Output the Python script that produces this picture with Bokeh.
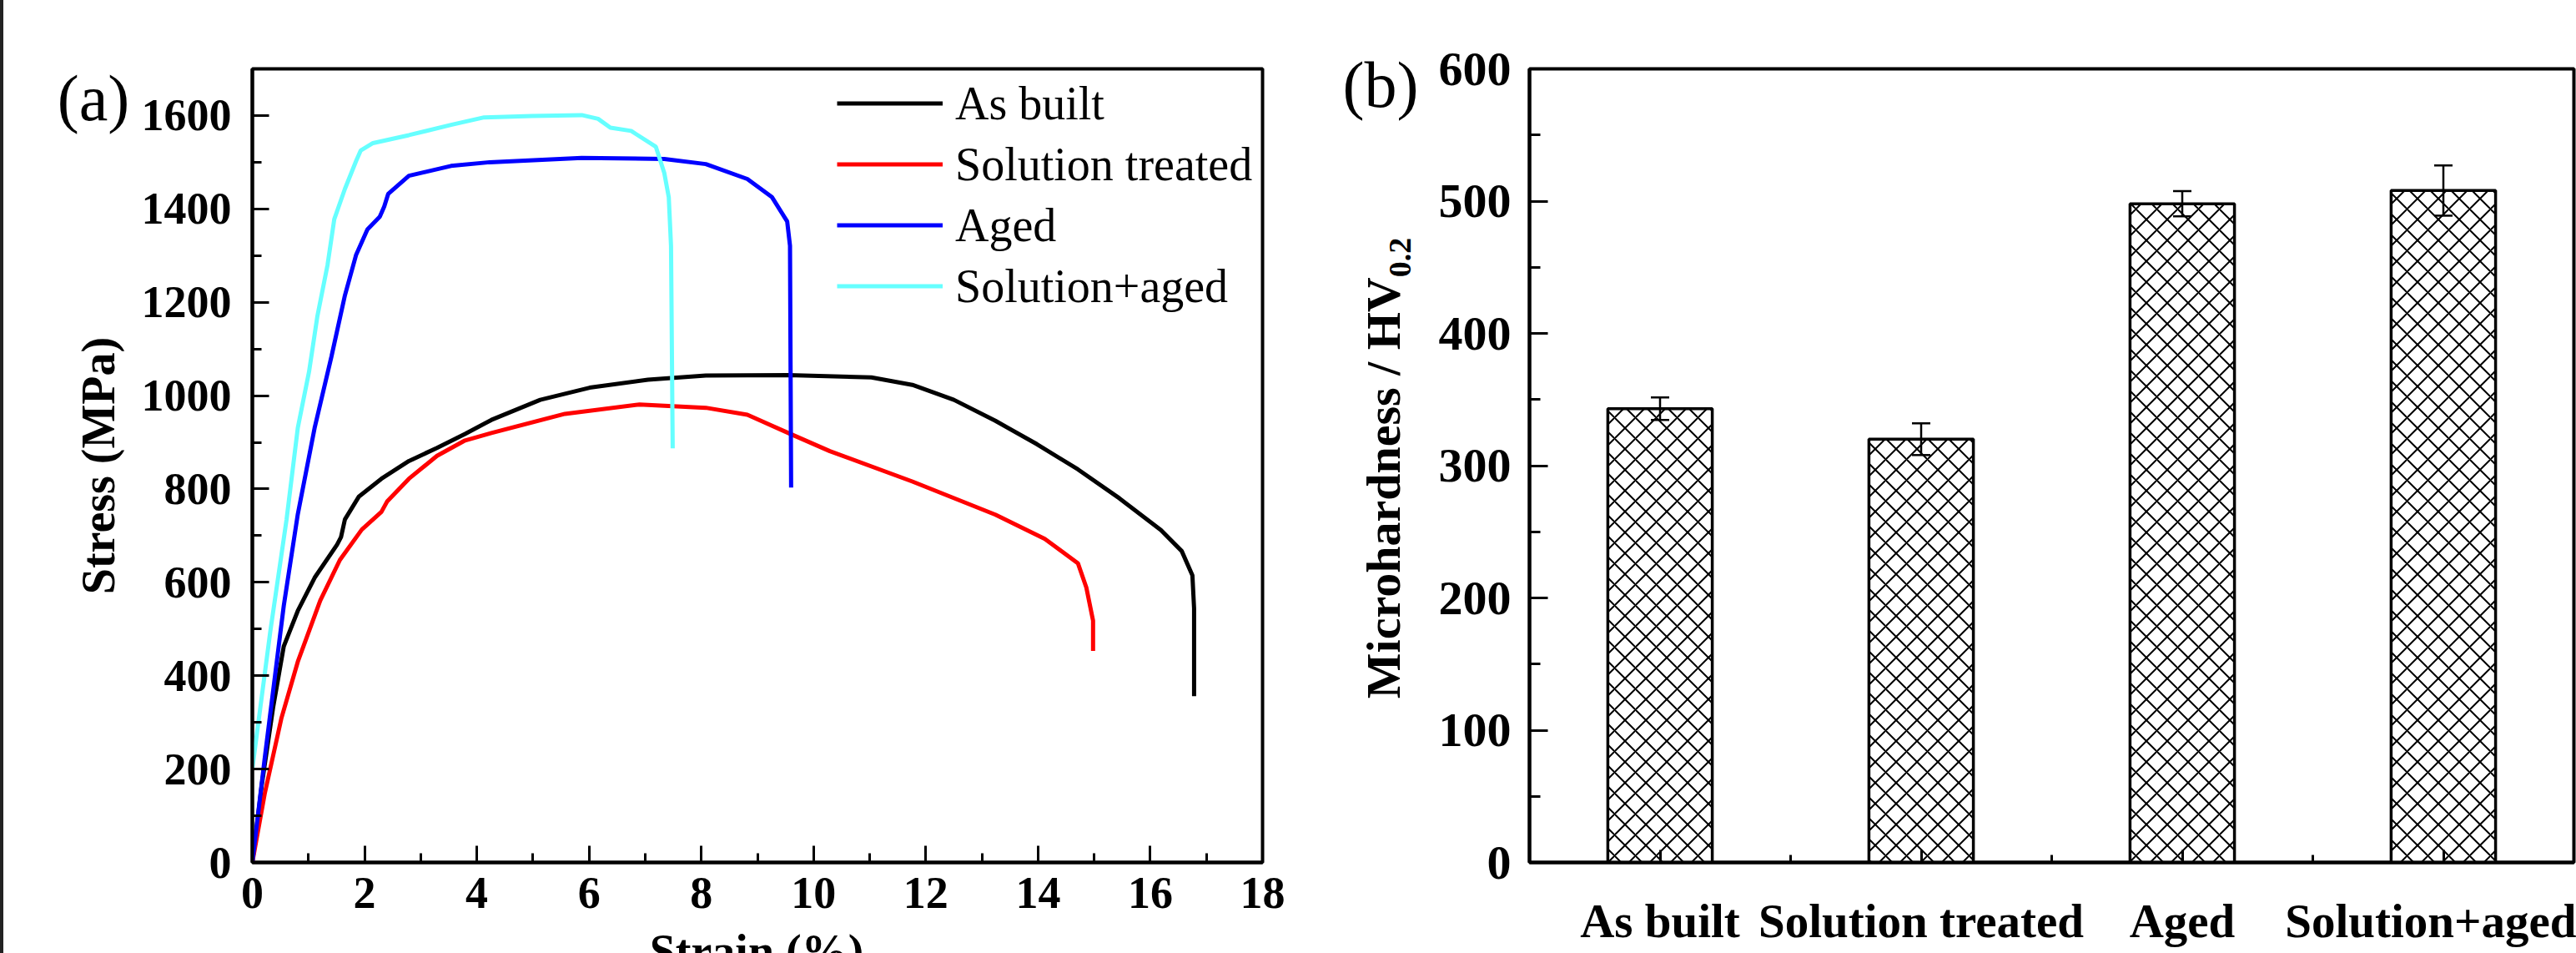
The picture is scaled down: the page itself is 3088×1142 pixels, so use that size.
import numpy as np
from bokeh.plotting import figure
from bokeh.models import (Range1d, SingleIntervalTicker, FixedTicker,
                          Whisker, ColumnDataSource, TeeHead, Div)
from bokeh.layouts import row
from bokeh.embed import file_html
from bokeh.resources import INLINE

# ---------------- data: panel (a) stress-strain curves ----------------
as_built_strain = [0, 0.17, 0.37, 0.56, 0.81, 1.11, 1.51, 1.58, 1.65, 1.90, 2.30, 2.79,
                   3.29, 3.79, 4.26, 5.13, 6.01, 7.05, 8.08, 9.55, 11.03, 11.76, 12.5,
                   13.24, 13.98, 14.71, 15.45, 16.19, 16.56, 16.75, 16.78, 16.78]
as_built_stress = [0, 168, 332, 463, 539, 610, 681, 697, 735, 784, 822, 860,
                   888, 918, 948, 991, 1017, 1034, 1043, 1044, 1039, 1023, 991,
                   946, 896, 842, 780, 712, 667, 615, 544, 356]

solution_strain = [0, 0.22, 0.52, 0.81, 1.21, 1.56, 1.95, 2.30, 2.40, 2.79, 3.29, 3.79,
                   4.26, 5.57, 6.9, 8.08, 8.82, 9.55, 10.29, 11.76, 13.24, 14.12, 14.71,
                   14.86, 14.98, 14.98]
solution_stress = [0, 147, 310, 430, 561, 648, 713, 751, 773, 822, 871, 904,
                   920, 961, 981, 974, 959, 920, 881, 816, 745, 693, 641,
                   589, 518, 453]

aged_strain = [0, 0.22, 0.56, 0.81, 1.11, 1.41, 1.65, 1.85, 2.05, 2.27, 2.35, 2.42,
               2.79, 3.54, 4.23, 5.87, 7.34, 8.08, 8.82, 9.26, 9.53, 9.58, 9.6]
aged_stress = [0, 223, 550, 746, 931, 1084, 1215, 1302, 1356, 1383, 1405, 1432,
               1471, 1492, 1500, 1509, 1507, 1496, 1464, 1425, 1373, 1321, 803]

sol_aged_strain = [0, 0.32, 0.61, 0.81, 1.01, 1.16, 1.34, 1.46, 1.65, 1.85, 1.93, 2.15,
                   2.79, 3.54, 4.13, 4.98, 5.87, 6.16, 6.38, 6.75, 7.19, 7.34, 7.42,
                   7.46, 7.49]
sol_aged_stress = [201, 495, 735, 931, 1051, 1171, 1280, 1378, 1443, 1503, 1525, 1541,
                   1558, 1580, 1596, 1599, 1601, 1593, 1574, 1567, 1533, 1477, 1425,
                   1321, 887]

series_names = ["As built", "Solution treated", "Aged", "Solution+aged"]
series_colors = ["#000000", "#ff0000", "#0000ff", "#66ffff"]

# ---------------- data: panel (b) microhardness ----------------
categories = ["As built", "Solution treated", "Aged", "Solution+aged"]
hardness = [343, 320, 498, 508]
hardness_err = [8.5, 12, 9.5, 19]

FONT = "Liberation Serif"

# ======================= panel (a) =======================
pa = figure(width=1556, height=1142, x_range=Range1d(0, 18), y_range=Range1d(0, 1700),
            output_backend="svg", toolbar_location=None,
            min_border_left=298, min_border_right=47, min_border_top=79, min_border_bottom=109)
pa.grid.visible = False
pa.outline_line_color = "black"
pa.outline_line_width = 4
pa.background_fill_color = "white"
pa.border_fill_color = "white"

curves = [(as_built_strain, as_built_stress), (solution_strain, solution_stress),
          (aged_strain, aged_stress), (sol_aged_strain, sol_aged_stress)]
for (xs, ys), name, col in zip(curves, series_names, series_colors):
    pa.line(xs, ys, line_color=col, line_width=5, legend_label=name)

pa.xaxis.ticker = SingleIntervalTicker(interval=2, num_minor_ticks=2)
pa.yaxis.ticker = SingleIntervalTicker(interval=200, num_minor_ticks=2)
for ax in (pa.xaxis[0], pa.yaxis[0]):
    ax.axis_line_width = 4
    ax.major_tick_in = 20
    ax.major_tick_out = 0
    ax.minor_tick_in = 11
    ax.minor_tick_out = 0
    ax.major_tick_line_width = 3
    ax.minor_tick_line_width = 3
    ax.major_label_text_font = FONT
    ax.major_label_text_font_style = "bold"
    ax.major_label_text_font_size = "54px"
    ax.major_label_text_color = "black"
pa.xaxis.major_label_standoff = 18
pa.yaxis.major_label_standoff = 25
pa.yaxis.axis_label = "Stress (MPa)"
pa.yaxis.axis_label_text_font = FONT
pa.yaxis.axis_label_text_font_style = "bold"
pa.yaxis.axis_label_text_font_size = "56px"
pa.yaxis.axis_label_text_color = "black"
pa.yaxis.axis_label_standoff = 18

lg = pa.legend[0]
lg.location = (701, 654)
lg.border_line_alpha = 0
lg.background_fill_alpha = 0
lg.label_text_font = FONT
lg.label_text_font_size = "56px"
lg.label_text_color = "black"
lg.glyph_width = 127
lg.glyph_height = 73
lg.label_height = 73
lg.spacing = 0
lg.padding = 0
lg.margin = 0
lg.label_standoff = 15

# ======================= panel (b) =======================
pb = figure(width=1528, height=1142, x_range=Range1d(0.5, 4.5), y_range=Range1d(0, 600),
            output_backend="svg", toolbar_location=None,
            min_border_left=273, min_border_right=3, min_border_top=82, min_border_bottom=106)
pb.grid.visible = False
pb.outline_line_color = "black"
pb.outline_line_width = 4
pb.background_fill_color = "white"
pb.border_fill_color = "white"

xpos = list(range(1, len(categories) + 1))
src = ColumnDataSource(dict(
    x=xpos, top=hardness,
    upper=[h + e for h, e in zip(hardness, hardness_err)],
    lower=[h - e for h, e in zip(hardness, hardness_err)],
))
pb.vbar(x="x", top="top", width=0.4, source=src, fill_color="white", line_color="black",
        line_width=3.5, hatch_pattern="diagonal_cross", hatch_color="black",
        hatch_scale=25, hatch_weight=2)
wh = Whisker(base="x", upper="upper", lower="lower", source=src, line_width=2.5,
             line_color="black",
             upper_head=TeeHead(size=22, line_width=2.5, line_color="black"),
             lower_head=TeeHead(size=22, line_width=2.5, line_color="black"),
             level="annotation")
pb.add_layout(wh)

pb.xaxis.ticker = FixedTicker(ticks=xpos, minor_ticks=[1.5, 2.5, 3.5])
pb.xaxis.major_label_overrides = {i: c for i, c in zip(xpos, categories)}
pb.yaxis.ticker = SingleIntervalTicker(interval=100, num_minor_ticks=2)
for ax in (pb.xaxis[0], pb.yaxis[0]):
    ax.axis_line_width = 4
    ax.major_tick_out = 0
    ax.minor_tick_out = 0
    ax.major_tick_line_width = 3
    ax.minor_tick_line_width = 3
    ax.major_label_text_font = FONT
    ax.major_label_text_font_style = "bold"
    ax.major_label_text_color = "black"
pb.xaxis.major_tick_in = 15
pb.xaxis.minor_tick_in = 9
pb.yaxis.major_tick_in = 22
pb.yaxis.minor_tick_in = 13
pb.xaxis.major_label_text_font_size = "57px"
pb.yaxis.major_label_text_font_size = "58px"
pb.xaxis.major_label_standoff = 38
pb.yaxis.major_label_standoff = 22

# ---------------- absolutely positioned HTML texts ----------------
def abs_div(html, left, top, w, h, size, bold=False, clip=False, extra=None):
    st = {"position": "absolute", "left": f"{left}px", "top": f"{top}px",
          "width": f"{w}px", "height": f"{h}px", "font-family": FONT,
          "font-size": f"{size}px", "line-height": f"{h}px", "color": "black",
          "text-align": "center", "white-space": "nowrap",
          "overflow": "hidden" if clip else "visible",
          "font-weight": "bold" if bold else "normal", "z-index": "10"}
    if extra:
        st.update(extra)
    return Div(text=html, width=w, height=h, margin=0, styles=st)

lab_a = abs_div("(a)", 62, 68, 100, 100, 78)
lab_b = abs_div("(b)", 1605, 52, 100, 100, 78)
lab_strain = abs_div("Strain (%)", 707, 1108, 400, 34, 56, bold=True, clip=True,
                     extra={"line-height": "64px"})
lab_hv = abs_div("Microhardness / HV<sub style='font-size:38px'>0.2</sub>",
                 1659 - 330, 561 - 40, 660, 80, 58, bold=True,
                 extra={"transform": "rotate(-90deg)", "transform-origin": "50% 50%"})

edge = Div(width=4, height=1142, margin=0, styles={"background-color": "#222222"})
layout = row(edge, pa, pb, lab_a, lab_b, lab_strain, lab_hv, spacing=0)

open("out.html", "w").write(file_html(layout, INLINE))
